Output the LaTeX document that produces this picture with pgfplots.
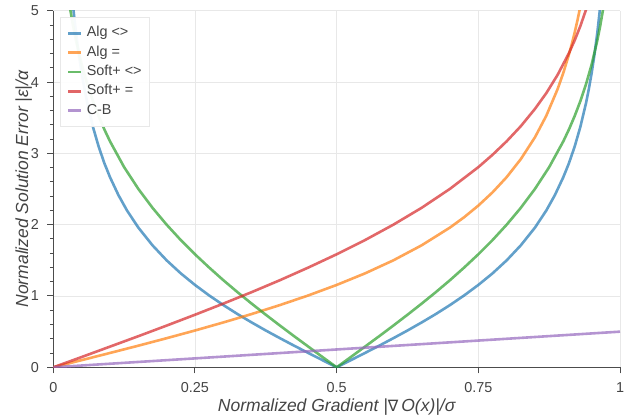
\documentclass[border=0pt]{standalone}
\usepackage{fontspec}
\setmainfont{Liberation Sans}
\newfontfamily\dejavu[Scale=0.9]{DejaVu Sans}
\usepackage{pgfplots}
\pgfplotsset{compat=1.18}
\definecolor{cblue}{HTML}{1F77B4}
\definecolor{corange}{HTML}{FF7F0E}
\definecolor{cgreen}{HTML}{2CA02C}
\definecolor{cred}{HTML}{D62728}
\definecolor{cpurple}{HTML}{9467BD}
\definecolor{labgray}{HTML}{444444}
\definecolor{gridgray}{HTML}{E8E8E8}
\begin{document}
\begin{tikzpicture}
\path[use as bounding box] (0,0) rectangle (631pt,417pt);
\begin{axis}[
  at={(53.3pt,49.7pt)}, anchor=south west,
  scale only axis, width=566.7pt, height=356.5pt,
  xmin=0, xmax=1, ymin=0, ymax=5,
  xtick={0,0.25,0.5,0.75,1}, ytick={0,1,2,3,4,5},
  minor y tick num=4,
  axis x line*=bottom, axis y line*=left,
  axis line style={-, draw=black!70, line width=1pt},
  every outer x axis line/.append style={-},
  every outer y axis line/.append style={-},
  every inner x axis line/.append style={-},
  every inner y axis line/.append style={-},
  tick align=outside, major tick length=6pt, minor tick length=3.5pt,
  tick style={draw=black!70, line width=1pt},
  grid=major, major grid style={draw=gridgray, line width=0.9pt},
  /pgf/number format/assume math mode=true,
  ticklabel style={font=\fontsize{14.4}{14.4}\selectfont, text=labgray, inner sep=0pt},
  xticklabel style={anchor=north, yshift=-9pt},
  yticklabel style={anchor=east, xshift=-8.3pt},
  xlabel={Normalized Gradient |{\dejavu\upshape ∇}\,O(x)|/σ},
  ylabel={Normalized Solution Error |ε|/α},
  label style={font=\itshape\fontsize{17.5}{17.5}\selectfont, text=labgray},
  xlabel style={at={(axis description cs:0.5,-0.1226)}, anchor=base},
  ylabel style={at={(axis description cs:-0.0445,0.5)}, anchor=base, rotate=0},
  legend image code/.code={\draw[#1] (0pt,0pt) -- (13pt,0pt);},
  legend cell align=left,
  legend style={at={(axis description cs:0.0118,0.9826)}, anchor=north west,
    draw=black!9, fill=white, fill opacity=0.95, text opacity=1,
    font=\fontsize{14.4}{14.4}\selectfont, text=labgray,
    inner xsep=7pt, inner ysep=6.5pt, row sep=0pt,
    nodes={inner xsep=0.5pt, inner ysep=3pt, text height=10.3pt, text depth=3pt},
    /tikz/every odd column/.append style={column sep=3.5pt}},
  every axis plot/.append style={line width=2.6pt, line join=round, no markers},
]
\addplot[draw=cblue, draw opacity=0.7] coordinates {
(0.030,5.510)(0.033,5.228)(0.036,4.981)(0.040,4.695)(0.045,4.390)(0.050,4.129)(0.055,3.904)(0.060,3.705)(0.070,3.371)(0.080,3.096)(0.090,2.865)(0.100,2.667)(0.115,2.414)(0.130,2.200)(0.150,1.960)(0.175,1.711)(0.200,1.500)(0.225,1.317)(0.250,1.155)(0.275,1.008)(0.300,0.873)(0.325,0.747)(0.350,0.629)(0.375,0.516)(0.400,0.408)(0.425,0.303)(0.450,0.201)(0.475,0.100)(0.500,0)
(0.525,0.100)(0.550,0.201)(0.575,0.303)(0.600,0.408)(0.625,0.516)(0.650,0.629)(0.675,0.747)(0.700,0.873)(0.725,1.008)(0.750,1.155)(0.775,1.317)(0.800,1.500)(0.825,1.711)(0.850,1.960)(0.870,2.200)(0.885,2.414)(0.900,2.667)(0.910,2.865)(0.920,3.096)(0.930,3.371)(0.940,3.705)(0.945,3.904)(0.950,4.129)(0.955,4.390)(0.960,4.695)(0.964,4.981)(0.967,5.228)(0.970,5.510)
};
\addlegendentry{Alg <>}
\addplot[draw=corange, draw opacity=0.7] coordinates {
(0,0)(0.05,0.100)(0.10,0.201)(0.15,0.303)(0.20,0.408)(0.25,0.516)(0.30,0.629)(0.35,0.747)(0.40,0.873)(0.45,1.008)(0.50,1.155)(0.55,1.317)(0.60,1.500)(0.65,1.711)(0.70,1.960)(0.725,2.105)(0.75,2.268)(0.775,2.453)(0.80,2.667)(0.825,2.920)(0.85,3.227)(0.87,3.529)(0.89,3.904)(0.90,4.130)(0.91,4.390)(0.915,4.536)(0.92,4.695)(0.925,4.869)(0.93,5.060)(0.94,5.510)
};
\addlegendentry{Alg =}
\addplot[draw=cgreen, draw opacity=0.7] coordinates {
(0.025,5.285)(0.030,5.015)(0.035,4.785)(0.040,4.585)(0.050,4.248)(0.060,3.970)(0.070,3.732)(0.080,3.524)(0.090,3.338)(0.100,3.170)(0.125,2.807)(0.150,2.503)(0.175,2.237)(0.200,2.000)(0.225,1.784)(0.250,1.585)(0.275,1.399)(0.300,1.222)(0.325,1.054)(0.350,0.893)(0.375,0.737)(0.400,0.585)(0.425,0.436)(0.450,0.290)(0.475,0.144)(0.500,0)
(0.525,0.144)(0.550,0.290)(0.575,0.436)(0.600,0.585)(0.625,0.737)(0.650,0.893)(0.675,1.054)(0.700,1.222)(0.725,1.399)(0.750,1.585)(0.775,1.784)(0.800,2.000)(0.825,2.237)(0.850,2.503)(0.875,2.807)(0.900,3.170)(0.910,3.338)(0.920,3.524)(0.930,3.732)(0.940,3.970)(0.950,4.248)(0.960,4.585)(0.965,4.785)(0.970,5.015)(0.975,5.285)
};
\addlegendentry{Soft+ <>}
\addplot[draw=cred, draw opacity=0.7] coordinates {
(0,0)(0.05,0.144)(0.10,0.290)(0.15,0.436)(0.20,0.585)(0.25,0.737)(0.30,0.893)(0.35,1.054)(0.40,1.222)(0.45,1.399)(0.50,1.585)(0.55,1.784)(0.60,2.000)(0.65,2.237)(0.70,2.503)(0.75,2.807)(0.775,2.980)(0.80,3.170)(0.825,3.382)(0.85,3.625)(0.87,3.846)(0.89,4.103)(0.91,4.408)(0.92,4.585)(0.93,4.785)(0.94,5.015)(0.95,5.285)
};
\addlegendentry{Soft+ =}
\addplot[draw=cpurple, draw opacity=0.7] coordinates {(0,0)(0.5,0.25)(1,0.5)};
\addlegendentry{C-B}
\end{axis}
\end{tikzpicture}
\end{document}
